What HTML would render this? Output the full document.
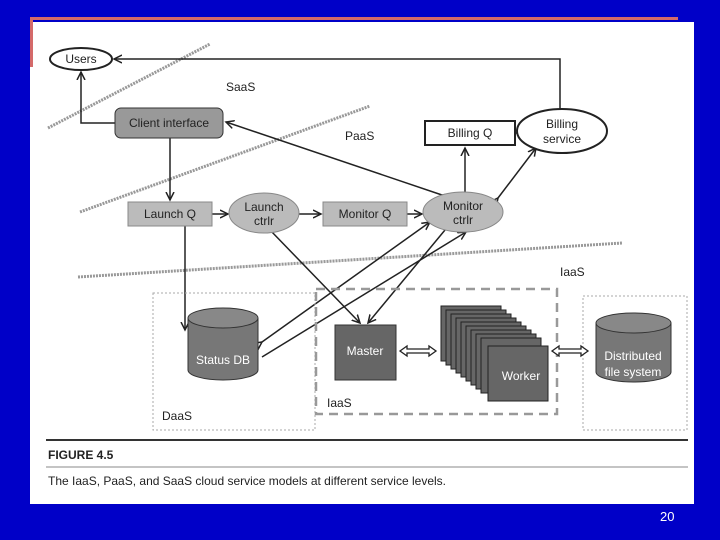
<!DOCTYPE html>
<html><head><style>
html,body{margin:0;padding:0;background:#0000c8;width:720px;height:540px;overflow:hidden}
svg{display:block}
text{font-family:"Liberation Sans",Arial,sans-serif}
</style></head><body>
<svg width="720" height="540" viewBox="0 0 720 540">
<defs>
<marker id="a" markerWidth="10" markerHeight="10" refX="8" refY="5" orient="auto" markerUnits="userSpaceOnUse"><path d="M0,1 L8,5 L0,9" fill="none" stroke="#222" stroke-width="1.5"/></marker>
</defs>
<rect x="0" y="0" width="720" height="540" fill="#0000c8"/>
<rect x="30" y="22" width="664" height="482" fill="#fff"/>
<rect x="30" y="17" width="648" height="3" fill="#d46a6a"/>
<rect x="30" y="17" width="3" height="50" fill="#d46a6a"/>
<g stroke="#999" stroke-width="3" stroke-dasharray="2,1" fill="none">
<line x1="48" y1="128" x2="210" y2="44"/>
<line x1="80" y1="212" x2="370" y2="106"/>
<line x1="78" y1="277" x2="622" y2="243"/>
</g>
<g font-size="12" fill="#222">
<text x="226" y="91">SaaS</text>
<text x="345" y="140">PaaS</text>
<text x="560" y="276">IaaS</text>
<text x="162" y="420">DaaS</text>
<text x="327" y="407">IaaS</text>
</g>
<g stroke="#222" stroke-width="1.5" fill="none">
<polyline points="560,110 560,59 114,59" marker-end="url(#a)"/>
<polyline points="115,123 81,123 81,72" marker-end="url(#a)"/>
<line x1="170" y1="138" x2="170" y2="200" marker-end="url(#a)"/>
<line x1="185" y1="226" x2="185" y2="330" marker-end="url(#a)"/>
<line x1="212" y1="214" x2="228" y2="214" marker-end="url(#a)"/>
<line x1="299" y1="214" x2="321" y2="214" marker-end="url(#a)"/>
<line x1="407" y1="214" x2="422" y2="214" marker-end="url(#a)"/>
<line x1="465" y1="193" x2="465" y2="148" marker-end="url(#a)"/>
<line x1="515" y1="133" x2="516" y2="133" marker-end="url(#a)"/>
<line x1="442" y1="195" x2="226" y2="122" marker-end="url(#a)" marker-start="url(#a)"/>
<line x1="498" y1="198" x2="536" y2="148" marker-end="url(#a)" marker-start="url(#a)"/>
<line x1="270" y1="230" x2="360" y2="323" marker-end="url(#a)"/>
<line x1="445" y1="230" x2="368" y2="323" marker-end="url(#a)"/>
<line x1="262" y1="342" x2="430" y2="222" marker-end="url(#a)" marker-start="url(#a)"/>
<line x1="262" y1="357" x2="466" y2="232" marker-end="url(#a)"/>
</g>
<ellipse cx="81" cy="59" rx="31" ry="11" fill="#fff" stroke="#222" stroke-width="2"/>
<text x="81" y="63" font-size="12" text-anchor="middle" fill="#222">Users</text>
<rect x="115" y="108" width="108" height="30" rx="6" fill="#999" stroke="#333"/>
<text x="169" y="127" font-size="12" text-anchor="middle" fill="#222">Client interface</text>
<rect x="425" y="121" width="90" height="24" fill="#fff" stroke="#222" stroke-width="2"/>
<text x="470" y="137" font-size="12" text-anchor="middle" fill="#222">Billing Q</text>
<ellipse cx="562" cy="131" rx="45" ry="22" fill="#fff" stroke="#222" stroke-width="2"/>
<text x="562" y="128" font-size="12" text-anchor="middle" fill="#222">Billing</text>
<text x="562" y="143" font-size="12" text-anchor="middle" fill="#222">service</text>
<rect x="128" y="202" width="84" height="24" fill="#bbb" stroke="#888"/>
<text x="170" y="218" font-size="12" text-anchor="middle" fill="#222">Launch Q</text>
<ellipse cx="264" cy="213" rx="35" ry="20" fill="#bbb" stroke="#888"/>
<text x="264" y="211" font-size="12" text-anchor="middle" fill="#222">Launch</text>
<text x="264" y="225" font-size="12" text-anchor="middle" fill="#222">ctrlr</text>
<rect x="323" y="202" width="84" height="24" fill="#bbb" stroke="#888"/>
<text x="365" y="218" font-size="12" text-anchor="middle" fill="#222">Monitor Q</text>
<ellipse cx="463" cy="212" rx="40" ry="20" fill="#bbb" stroke="#888"/>
<text x="463" y="210" font-size="12" text-anchor="middle" fill="#222">Monitor</text>
<text x="463" y="224" font-size="12" text-anchor="middle" fill="#222">ctrlr</text>
<rect x="153" y="293" width="162" height="137" fill="none" stroke="#aaa" stroke-dasharray="2,2"/>
<rect x="583" y="296" width="104" height="134" fill="none" stroke="#aaa" stroke-dasharray="2,2"/>
<rect x="316" y="289" width="241" height="125" fill="none" stroke="#999" stroke-width="2.5" stroke-dasharray="9,6"/>
<path d="M188,318 L188,370 A35,10 0 0 0 258,370 L258,318" fill="#777" stroke="#333"/>
<ellipse cx="223" cy="318" rx="35" ry="10" fill="#888" stroke="#333"/>
<text x="223" y="364" font-size="12" text-anchor="middle" fill="#fff">Status DB</text>
<path d="M596,323 L596,372 A37.5,10 0 0 0 671,372 L671,323" fill="#777" stroke="#333"/>
<ellipse cx="633.5" cy="323" rx="37.5" ry="10" fill="#888" stroke="#333"/>
<text x="633" y="360" font-size="12" text-anchor="middle" fill="#fff">Distributed</text>
<text x="633" y="376" font-size="12" text-anchor="middle" fill="#fff">file system</text>
<rect x="335" y="325" width="61" height="55" fill="#666" stroke="#333"/>
<text x="365" y="355" font-size="12" text-anchor="middle" fill="#fff">Master</text>
<g fill="#666" stroke="#222">
<rect x="441" y="306" width="60" height="55"/><rect x="446" y="310" width="60" height="55"/>
<rect x="451" y="314" width="60" height="55"/><rect x="456" y="318" width="60" height="55"/>
<rect x="461" y="322" width="60" height="55"/><rect x="466" y="326" width="60" height="55"/>
<rect x="471" y="330" width="60" height="55"/><rect x="476" y="334" width="60" height="55"/>
<rect x="481" y="338" width="60" height="55"/><rect x="488" y="346" width="60" height="55"/>
</g>
<text x="521" y="380" font-size="12" text-anchor="middle" fill="#fff">Worker</text>
<g fill="#fff" stroke="#222" stroke-width="1.3">
<path d="M400,351 L407,346 L407,349 L429,349 L429,346 L436,351 L429,356 L429,353 L407,353 L407,356 Z"/>
<path d="M552,351 L559,346 L559,349 L581,349 L581,346 L588,351 L581,356 L581,353 L559,353 L559,356 Z"/>
</g>
<line x1="46" y1="440" x2="688" y2="440" stroke="#333" stroke-width="2"/>
<text x="48" y="459" font-size="12" font-weight="bold" fill="#222">FIGURE 4.5</text>
<line x1="46" y1="467" x2="688" y2="467" stroke="#888" stroke-width="1"/>
<text x="48" y="485" font-size="12" fill="#222">The IaaS, PaaS, and SaaS cloud service models at different service levels.</text>
<text x="660" y="521" font-size="13" fill="#fff">20</text>
</svg>
</body></html>
